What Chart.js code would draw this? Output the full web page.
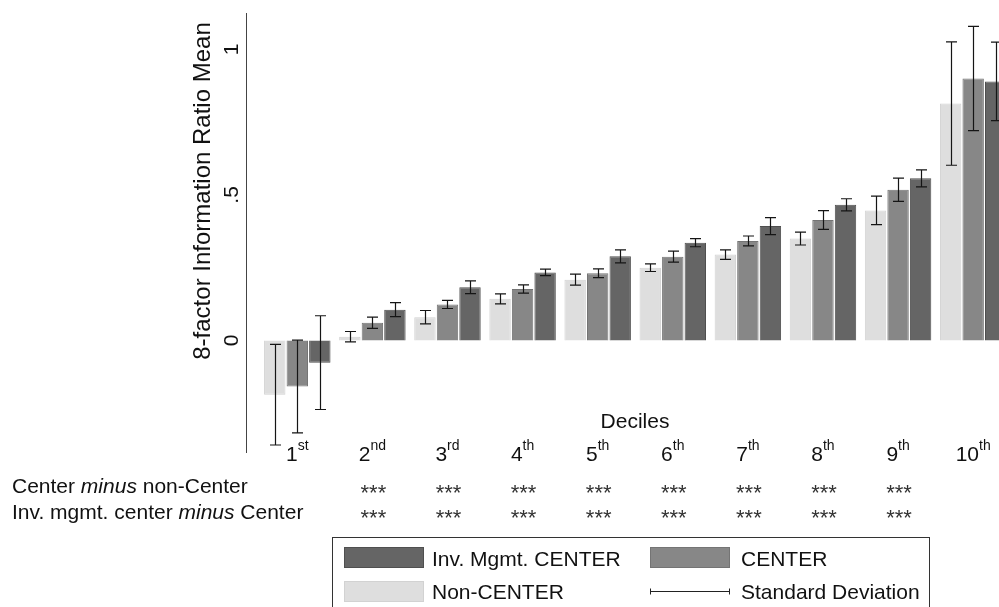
<!DOCTYPE html>
<html><head><meta charset="utf-8">
<script src="https://cdn.jsdelivr.net/npm/chart.js@4.4.1/dist/chart.umd.min.js"></script>
<style>html,body{margin:0;padding:0;background:#fff;overflow:hidden}#wrap{width:999px;height:607px;position:relative}</style>
</head><body><div id="wrap"><canvas id="c" width="999" height="607"></canvas></div>
<script>
// ---- data ----
const deciles = ['1','2','3','4','5','6','7','8','9','10'];
const decileSuffix = ['st','nd','rd','th','th','th','th','th','th','th'];
const nonCenterMean = [-0.186, 0.013, 0.080, 0.143, 0.209, 0.250, 0.295, 0.350, 0.447, 0.814];
const nonCenterSD   = [ 0.173, 0.018, 0.023, 0.017, 0.019, 0.013, 0.016, 0.022, 0.049, 0.212];
const centerMean    = [-0.158, 0.061, 0.124, 0.177, 0.231, 0.288, 0.342, 0.414, 0.518, 0.900];
const centerSD      = [ 0.159, 0.019, 0.014, 0.014, 0.015, 0.019, 0.017, 0.032, 0.040, 0.179];
const invMgmtMean   = [-0.076, 0.106, 0.183, 0.234, 0.289, 0.336, 0.393, 0.466, 0.557, 0.890];
const invMgmtSD     = [ 0.161, 0.024, 0.022, 0.011, 0.022, 0.014, 0.029, 0.021, 0.029, 0.135];
const yTickValues = [0, 0.5, 1];
const yTickLabels = ['0', '.5', '1'];
const yTitle = '8-factor Information Ratio Mean';
const xTitle = 'Deciles';
const row1Label = [['Center ', false], ['minus', true], [' non-Center', false]];
const row2Label = [['Inv. mgmt. center ', false], ['minus', true], [' Center', false]];
const row1Stars = ['', '***', '***', '***', '***', '***', '***', '***', '***', ''];
const row2Stars = ['', '***', '***', '***', '***', '***', '***', '***', '***', ''];
const seriesNames = ['Non-CENTER', 'CENTER', 'Inv. Mgmt. CENTER'];
const sdLabel = 'Standard Deviation';

// ---- styles ----
const fills = ['#dedede', '#878787', '#656565'];
const borders = ['#d2d2d2', '#747474', '#4f4f4f'];
const FONT = '"Liberation Sans", Arial, Helvetica, sans-serif';
const X_MIN = 0.317, X_MAX = 10.344;

const xPos = deciles.map((d, i) => i + 1);
const pts = arr => arr.map((v, i) => ({x: xPos[i], y: v}));
const means = [nonCenterMean, centerMean, invMgmtMean];
const sds = [nonCenterSD, centerSD, invMgmtSD];

const overlay = {
  id: 'overlay',
  afterDatasetsDraw(chart) {
    const ctx = chart.ctx;
    const ys = chart.scales.y;
    ctx.save();
    ctx.strokeStyle = '#151515';
    ctx.lineWidth = 1.2;
    means.forEach((m, di) => {
      const meta = chart.getDatasetMeta(di);
      meta.data.forEach((el, j) => {
        const x = Math.round(el.x) + 0.5;
        const t = ys.getPixelForValue(m[j] + sds[di][j]);
        const b = ys.getPixelForValue(m[j] - sds[di][j]);
        ctx.beginPath();
        ctx.moveTo(x, t); ctx.lineTo(x, b);
        ctx.moveTo(x - 5.5, t); ctx.lineTo(x + 5.5, t);
        ctx.moveTo(x - 5.5, b); ctx.lineTo(x + 5.5, b);
        ctx.stroke();
      });
    });
    ctx.restore();
  },
  afterDraw(chart) {
    const ctx = chart.ctx;
    const ys = chart.scales.y, xs = chart.scales.x;
    ctx.save();
    ctx.fillStyle = '#111';
    ctx.font = '21px ' + FONT;
    ctx.textAlign = 'center';
    ctx.textBaseline = 'alphabetic';
    yTickValues.forEach((v, i) => {
      ctx.save();
      ctx.translate(237.5, ys.getPixelForValue(v));
      ctx.rotate(-Math.PI / 2);
      ctx.fillText(yTickLabels[i], 0, 0);
      ctx.restore();
    });
    ctx.save();
    ctx.font = '24px ' + FONT;
    ctx.translate(210, 191);
    ctx.rotate(-Math.PI / 2);
    ctx.fillText(yTitle, 0, 0);
    ctx.restore();
    ctx.font = '21px ' + FONT;
    ctx.textAlign = 'center';
    ctx.fillText(xTitle, 635, 428);
    ctx.textAlign = 'left';
    deciles.forEach((d, i) => {
      const cx = xs.getPixelForValue(xPos[i]);
      ctx.font = '21px ' + FONT;
      const w1 = ctx.measureText(d).width;
      ctx.font = '14px ' + FONT;
      const w2 = ctx.measureText(decileSuffix[i]).width;
      const x0 = cx - (w1 + w2) / 2;
      ctx.font = '21px ' + FONT;
      ctx.fillText(d, x0, 461);
      ctx.font = '14px ' + FONT;
      ctx.fillText(decileSuffix[i], x0 + w1, 450);
    });
    const drawRich = (parts, x, y) => {
      let cx = x;
      parts.forEach(([txt, it]) => {
        ctx.font = (it ? 'italic ' : '') + '21px ' + FONT;
        ctx.fillText(txt, cx, y);
        cx += ctx.measureText(txt).width;
      });
    };
    drawRich(row1Label, 12, 493);
    drawRich(row2Label, 12, 519);
    ctx.fillStyle = '#333';
    ctx.font = '22px ' + FONT;
    ctx.textAlign = 'center';
    deciles.forEach((d, i) => {
      const cx = xs.getPixelForValue(xPos[i]);
      if (row1Stars[i]) ctx.fillText(row1Stars[i], cx + 1, 499.5);
      if (row2Stars[i]) ctx.fillText(row2Stars[i], cx + 1, 524.5);
    });
    ctx.textAlign = 'left';
    ctx.strokeStyle = '#333';
    ctx.lineWidth = 1;
    ctx.strokeRect(332.5, 537.5, 597, 90);
    const sw = (i, x, y, h) => {
      ctx.fillStyle = fills[i];
      ctx.fillRect(x, y, 80, h);
      ctx.strokeStyle = borders[i];
      ctx.strokeRect(x + 0.5, y + 0.5, 79, h - 1);
    };
    sw(2, 344, 547, 21);
    sw(1, 650, 547, 21);
    sw(0, 344, 581, 21);
    ctx.fillStyle = '#111';
    ctx.font = '21px ' + FONT;
    ctx.fillText(seriesNames[2], 432, 565.5);
    ctx.fillText(seriesNames[1], 741, 565.5);
    ctx.fillText(seriesNames[0], 432, 598.5);
    ctx.fillText(sdLabel, 741, 598.5);
    ctx.strokeStyle = '#222';
    ctx.lineWidth = 1;
    ctx.beginPath();
    ctx.moveTo(650, 591.5); ctx.lineTo(730, 591.5);
    ctx.moveTo(650.5, 588.5); ctx.lineTo(650.5, 594.5);
    ctx.moveTo(729.5, 588.5); ctx.lineTo(729.5, 594.5);
    ctx.stroke();
    ctx.restore();
  }
};

new Chart(document.getElementById('c'), {
  type: 'bar',
  data: {
    datasets: means.map((m, i) => ({
      label: seriesNames[i],
      data: pts(m),
      backgroundColor: fills[i],
      borderColor: borders[i],
      borderWidth: 1,
      categoryPercentage: 0.9,
      barPercentage: 0.95
    }))
  },
  options: {
    responsive: false,
    animation: false,
    events: [],
    layout: {padding: {top: 13, bottom: 155, left: 0, right: 0}},
    scales: {
      x: {
        type: 'linear', min: X_MIN, max: X_MAX, offset: false, bounds: 'data',
        display: false,
        afterBuildTicks(s) {
          s.ticks = xPos.map(v => ({value: v}));
          s.min = X_MIN; s.max = X_MAX;
        }
      },
      y: {
        min: -0.383, max: 1.125,
        ticks: {display: false},
        grid: {display: false, drawTicks: false},
        border: {display: true, color: '#444', width: 1},
        afterFit(s) { s.width = 246; }
      }
    },
    plugins: {legend: {display: false}, tooltip: {enabled: false}, title: {display: false}}
  },
  plugins: [overlay]
});
</script>
</body></html>
